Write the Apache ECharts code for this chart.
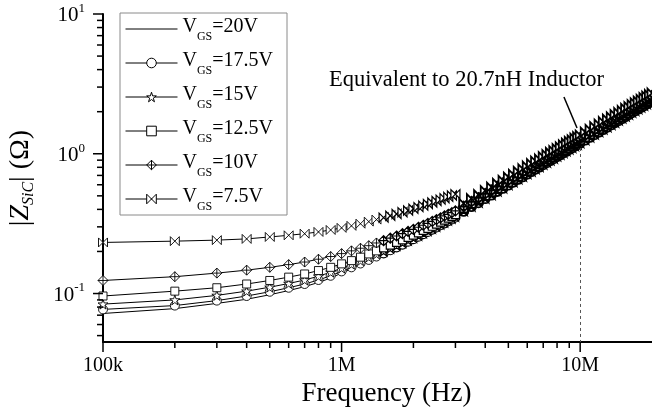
<!DOCTYPE html>
<html><head><meta charset="utf-8">
<script src="https://cdn.jsdelivr.net/npm/echarts@6/dist/echarts.min.js"></script>
<style>html,body{margin:0;padding:0;background:#fff}#c{width:652px;height:410px}</style>
</head><body><div id="c"></div>
<script>
// Frequency sweep (MHz)
const freqMHz = [0.1,0.2,0.3,0.4,0.5,0.6,0.7,0.8,0.9,1.0,1.1,1.2,1.3,1.4,1.5,1.6,1.7,1.8,1.9,2.0,2.1,2.2,2.3,2.4,2.5,2.6,2.7,2.8,2.9,3.0,
3.25,3.5,3.75,4,4.25,4.5,4.75,5,5.25,5.5,5.75,6,6.25,6.5,6.75,7,7.25,7.5,7.75,8,8.25,8.5,8.75,9,9.25,9.5,9.75,10,
10.5,11,11.5,12,12.5,13,13.5,14,14.5,15,15.5,16,16.5,17,17.5,18,18.5,19,19.5,20];

// |Z| (Ohm) per gate voltage
const z20 = [0.072,0.078,0.085,0.091,0.098,0.105,0.112,0.120,0.129,0.140,0.150,0.160,0.170,0.180,0.190,0.200,0.210,0.221,0.231,0.240,0.251,0.261,0.271,0.282,0.292,0.303,0.313,0.324,0.334,0.345,
0.377,0.406,0.436,0.463,0.494,0.521,0.552,0.579,0.610,0.637,0.668,0.695,0.726,0.753,0.784,0.811,0.842,0.869,0.900,0.927,0.958,0.985,1.016,1.043,1.074,1.101,1.132,1.160,
1.218,1.275,1.335,1.391,1.451,1.507,1.567,1.623,1.683,1.739,1.799,1.855,1.915,1.971,2.031,2.087,2.147,2.203,2.263,2.320];
const z175 = [0.077,0.082,0.089,0.096,0.103,0.110,0.117,0.125,0.134,0.144,0.154,0.164,0.174,0.184,0.194,0.204,0.214,0.224,0.235,0.245,0.255,0.266,0.276,0.287,0.297,0.308,0.318,0.329,0.339,0.350,
0.387,0.418,0.446,0.477,0.506,0.537,0.565,0.596,0.625,0.656,0.684,0.715,0.744,0.775,0.803,0.834,0.863,0.894,0.922,0.953,0.982,1.013,1.041,1.072,1.101,1.132,1.160,1.190,
1.250,1.310,1.369,1.429,1.488,1.548,1.607,1.667,1.726,1.786,1.845,1.905,1.964,2.024,2.083,2.143,2.202,2.262,2.321,2.380];
const z15 = [0.084,0.090,0.097,0.104,0.111,0.118,0.125,0.133,0.142,0.152,0.162,0.172,0.182,0.192,0.202,0.212,0.222,0.232,0.242,0.252,0.262,0.273,0.283,0.294,0.304,0.315,0.325,0.336,0.347,0.358,
0.397,0.428,0.457,0.489,0.518,0.550,0.579,0.611,0.640,0.672,0.701,0.733,0.762,0.794,0.823,0.855,0.884,0.916,0.945,0.977,1.006,1.038,1.067,1.099,1.128,1.160,1.189,1.220,
1.282,1.341,1.404,1.463,1.526,1.585,1.648,1.707,1.770,1.829,1.892,1.951,2.014,2.073,2.136,2.195,2.258,2.317,2.380,2.440];
const z125 = [0.096,0.104,0.110,0.117,0.124,0.131,0.138,0.146,0.154,0.163,0.172,0.182,0.192,0.202,0.212,0.222,0.232,0.242,0.252,0.262,0.272,0.283,0.293,0.303,0.314,0.324,0.335,0.346,0.356,0.367,
0.406,0.437,0.470,0.500,0.531,0.562,0.594,0.625,0.657,0.687,0.719,0.750,0.782,0.812,0.844,0.875,0.907,0.937,0.969,1.000,1.032,1.062,1.094,1.125,1.157,1.187,1.219,1.250,
1.312,1.376,1.437,1.501,1.562,1.626,1.687,1.751,1.812,1.876,1.937,2.001,2.062,2.126,2.187,2.251,2.312,2.376,2.437,2.500];
const z10 = [0.124,0.132,0.140,0.147,0.154,0.161,0.168,0.176,0.184,0.193,0.202,0.211,0.220,0.230,0.239,0.249,0.258,0.268,0.278,0.288,0.298,0.308,0.318,0.328,0.338,0.348,0.359,0.369,0.379,0.390,
0.419,0.453,0.483,0.517,0.547,0.582,0.612,0.646,0.676,0.711,0.741,0.775,0.805,0.840,0.870,0.904,0.934,0.969,0.999,1.033,1.063,1.098,1.128,1.162,1.192,1.227,1.257,1.290,
1.356,1.418,1.485,1.547,1.614,1.676,1.743,1.805,1.872,1.934,2.001,2.063,2.130,2.192,2.259,2.321,2.388,2.450,2.517,2.580];
const z75 = [0.232,0.237,0.241,0.246,0.254,0.261,0.268,0.276,0.285,0.295,0.305,0.316,0.327,0.338,0.349,0.360,0.371,0.382,0.393,0.404,0.415,0.426,0.437,0.448,0.459,0.470,0.481,0.492,0.503,0.514,
0.442,0.477,0.509,0.545,0.577,0.613,0.645,0.681,0.713,0.749,0.781,0.817,0.849,0.885,0.917,0.953,0.985,1.021,1.053,1.089,1.121,1.157,1.189,1.225,1.257,1.293,1.325,1.360,
1.429,1.495,1.565,1.631,1.701,1.767,1.837,1.903,1.973,2.039,2.109,2.175,2.245,2.311,2.381,2.447,2.517,2.583,2.653,2.720];

const seriesLabels = ['20V','17.5V','15V','12.5V','10V','7.5V'];

// Axis ticks
const xTickValues = [1e5, 1e6, 1e7];
const xTickLabels = ['100k', '1M', '10M'];
const xMinorTicks = [2e5,3e5,4e5,5e5,6e5,7e5,8e5,9e5,2e6,3e6,4e6,5e6,6e6,7e6,8e6,9e6];
const yTickValues = [10, 1, 0.1];
const yTickExponents = ['1', '0', '-1'];
const yMinorTicks = [0.05,0.06,0.07,0.08,0.09,0.2,0.3,0.4,0.5,0.6,0.7,0.8,0.9,2,3,4,5,6,7,8,9];

// Annotation
const annotationText = 'Equivalent to 20.7nH Inductor';
const arrowFrom = [8.55e6, 2.55];
const arrowTo = [9.7e6, 1.53];
const guideFreq = 1e7;
const guideTop = 1.1;

const X_MIN = 1e5, X_MAX = 2e7, Y_MIN = 0.045, Y_MAX = 10;
const MID_FROM_MHZ = 1.5;
const DENSE_FROM_MHZ = 3.2;
const FONT = '"Liberation Serif","Times New Roman",serif';

const zData = [z20, z175, z15, z125, z10, z75];
const symbolOf = {
  '20V': 'none',
  '17.5V': 'circle',
  '15V': 'path://M0,-100L22.3,-30.7L95.1,-30.9L36.1,11.7L58.8,80.9L0,38L-58.8,80.9L-36.1,11.7L-95.1,-30.9L-22.3,-30.7Z',
  '12.5V': 'rect',
  '10V': 'path://M0,-100L100,0L0,100L-100,0Z M0,-100L0,100 M-100,0L100,0',
  '7.5V': 'path://M-100,-100L100,100L100,-100L-100,100Z'
};
const sizeOf = {'20V': 0, '17.5V': 9, '15V': 10, '12.5V': 8, '10V': 10, '7.5V': 9};

function point(f, z) {
  const v = [f * 1e6, z];
  if (f >= DENSE_FROM_MHZ) return {value: v, itemStyle: {borderWidth: 1.8}};
  if (f >= MID_FROM_MHZ) return {value: v, itemStyle: {borderWidth: 1.2}};
  return v;
}

const series = seriesLabels.map((lab, i) => ({
  name: 'VGS=' + lab,
  type: 'line',
  data: freqMHz.map((f, k) => point(f, zData[i][k])),
  symbol: symbolOf[lab],
  symbolSize: sizeOf[lab],
  lineStyle: {color: '#000', width: 1},
  itemStyle: {color: '#fff', borderColor: '#000', borderWidth: 0.9},
  emphasis: {disabled: true},
  silent: true,
  z: 2
}));

series[0].markLine = {
  silent: true, symbol: ['none', 'none'], label: {show: false}, animation: false,
  data: [
    [{coord: [guideFreq, guideTop], lineStyle: {type: [3, 3], color: '#555', width: 1}}, {coord: [guideFreq, Y_MIN]}],
    [{coord: arrowFrom, lineStyle: {type: 'solid', color: '#000', width: 1.5}}, {coord: arrowTo}]
  ]
};

const tickData = [];
xTickValues.forEach(v => tickData.push([v, Y_MIN, 10, 0]));
xMinorTicks.forEach(v => tickData.push([v, Y_MIN, 6, 0]));
yTickValues.forEach(v => tickData.push([X_MIN, v, 10, 1]));
yMinorTicks.forEach(v => tickData.push([X_MIN, v, 6, 1]));

series.push({
  type: 'custom', silent: true, z: 10, clip: false, data: tickData,
  encode: {x: 0, y: 1},
  renderItem: (params, api) => {
    const p = api.coord([api.value(0), api.value(1)]);
    const len = api.value(2);
    const isY = api.value(3) === 1;
    return {
      type: 'line',
      shape: isY ? {x1: p[0] - len, y1: p[1], x2: p[0], y2: p[1]} : {x1: p[0], y1: p[1], x2: p[0], y2: p[1] + len},
      style: {stroke: '#000', lineWidth: 1.5}
    };
  }
});

function idxOf(arr, v) {
  return arr.findIndex(t => Math.abs(Math.log10(t) - Math.log10(v)) < 1e-6);
}

const chart = echarts.init(document.getElementById('c'), null, {renderer: 'canvas'});
chart.setOption({
  animation: false,
  backgroundColor: '#fff',
  title: {
    text: annotationText, left: 329, top: 69, padding: 0,
    textStyle: {fontFamily: FONT, fontSize: 22.5, fontWeight: 'normal', color: '#000'}
  },
  grid: {left: 103, right: 0, top: 14, bottom: 68, containLabel: false, outerBoundsMode: 'none'},
  legend: {
    orient: 'vertical', left: 120, top: 13, padding: [4, 14, 2, 5], itemGap: 8,
    itemWidth: 52, itemHeight: 12,
    borderColor: '#8a8a8a', borderWidth: 1, backgroundColor: '#fff',
    selectedMode: false,
    itemStyle: {color: '#fff', borderColor: '#000', borderWidth: 1},
    lineStyle: {color: '#000', width: 1},
    data: seriesLabels.map((l, i) => i === 0
      ? {name: 'VGS=' + l, itemStyle: {color: 'rgba(0,0,0,0)', borderColor: 'rgba(0,0,0,0)', borderWidth: 0}}
      : {name: 'VGS=' + l}),
    formatter: name => '{v|V}{s|GS}{v|=' + name.slice(4) + '}',
    textStyle: {
      fontFamily: FONT, color: '#000',
      rich: {
        v: {fontSize: 20, lineHeight: 24, verticalAlign: 'top', fontFamily: FONT, color: '#000'},
        s: {fontSize: 12, lineHeight: 14, padding: [14, 0, 0, 0], verticalAlign: 'top', fontFamily: FONT, color: '#000'}
      }
    }
  },
  xAxis: {
    type: 'log', logBase: 10, min: X_MIN, max: X_MAX,
    axisLine: {show: true, onZero: false, lineStyle: {color: '#000', width: 2}},
    axisTick: {show: false}, minorTick: {show: false},
    splitLine: {show: false}, minorSplitLine: {show: false},
    axisLabel: {
      margin: 14, fontFamily: FONT, fontSize: 20, color: '#000',
      showMinLabel: true, showMaxLabel: false, hideOverlap: false,
      formatter: v => { const i = idxOf(xTickValues, v); return i < 0 ? '' : xTickLabels[i]; }
    },
    name: 'Frequency (Hz)', nameLocation: 'middle', nameGap: 37,
    nameTextStyle: {fontFamily: FONT, fontSize: 27, color: '#000', padding: [0, 0, 0, 18]}
  },
  yAxis: {
    type: 'log', logBase: 10, min: Y_MIN, max: Y_MAX,
    axisLine: {show: true, onZero: false, lineStyle: {color: '#000', width: 2}},
    axisTick: {show: false}, minorTick: {show: false},
    splitLine: {show: false}, minorSplitLine: {show: false},
    axisLabel: {
      margin: 18, showMinLabel: false, showMaxLabel: true, hideOverlap: false,
      formatter: v => { const i = idxOf(yTickValues, v); return i < 0 ? '' : '{b|10}{s|' + yTickExponents[i] + '}'; },
      rich: {
        b: {fontSize: 21, lineHeight: 24, verticalAlign: 'bottom', fontFamily: FONT, color: '#000'},
        s: {fontSize: 13, lineHeight: 14, verticalAlign: 'top', fontFamily: FONT, color: '#000'}
      }
    },
    name: '{n||}{z|Z}{sub|SiC}{n|| (Ω)}', nameLocation: 'middle', nameGap: 66,
    nameTextStyle: {
      rich: {
        n: {fontSize: 28, lineHeight: 32, verticalAlign: 'middle', fontFamily: FONT, color: '#000'},
        z: {fontSize: 28, lineHeight: 32, verticalAlign: 'middle', fontStyle: 'italic', fontFamily: FONT, color: '#000'},
        sub: {fontSize: 16, lineHeight: 14, verticalAlign: 'bottom', fontStyle: 'italic', fontFamily: FONT, color: '#000'}
      }
    }
  },
  series: series
});
</script>
</body></html>
